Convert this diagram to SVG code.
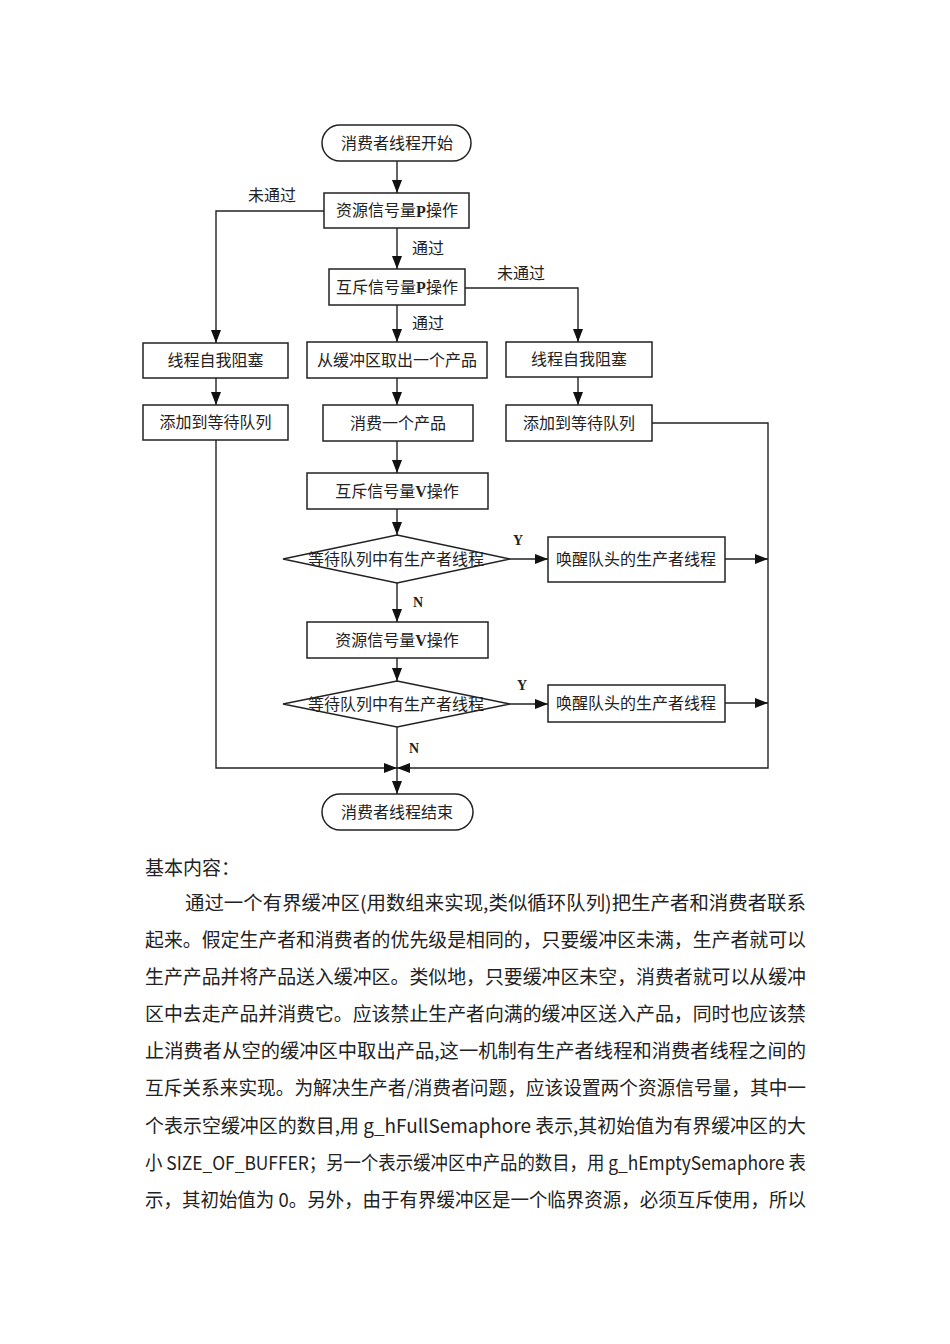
<svg xmlns="http://www.w3.org/2000/svg" width="950" height="1344" viewBox="0 0 950 1344">
<style>
.box{fill:#fff;stroke:#222;stroke-width:1.5}
.lbl{font-family:"Liberation Serif","Noto Sans CJK SC",serif;font-size:16px;fill:#222;text-anchor:middle;dominant-baseline:central}
.lt{font-family:"Liberation Serif","Noto Sans CJK SC",serif;font-weight:bold}
.edge{fill:none;stroke:#222;stroke-width:1.4}
.yn{font-family:"Liberation Serif",serif;font-weight:bold;font-size:14px;fill:#222;text-anchor:middle;dominant-baseline:central}
.para{font-family:"Noto Sans CJK SC",sans-serif;font-size:19px;fill:#222}
</style>
<defs>
<marker id="arr" markerUnits="userSpaceOnUse" markerWidth="13" markerHeight="10" refX="13" refY="5" orient="auto">
<path d="M0,0 L13,5 L0,10 z" fill="#111"/>
</marker>
</defs>
<rect width="950" height="1344" fill="#fff"/>

<g id="connectors">
<path class="edge" d="M397,161 V193" marker-end="url(#arr)"/>
<path class="edge" d="M397,228 V269" marker-end="url(#arr)"/>
<path class="edge" d="M397,305 V342" marker-end="url(#arr)"/>
<path class="edge" d="M397,378 V405" marker-end="url(#arr)"/>
<path class="edge" d="M397,441 V473" marker-end="url(#arr)"/>
<path class="edge" d="M397,509 V535" marker-end="url(#arr)"/>
<path class="edge" d="M397,583 V622" marker-end="url(#arr)"/>
<path class="edge" d="M397,658 V681" marker-end="url(#arr)"/>
<path class="edge" d="M397,727 V794" marker-end="url(#arr)"/>
<path class="edge" d="M324,211 H216 V343" marker-end="url(#arr)"/>
<path class="edge" d="M216,378 V405" marker-end="url(#arr)"/>
<path class="edge" d="M216,440 V768 H397" marker-end="url(#arr)"/>
<path class="edge" d="M465,288 H578 V342" marker-end="url(#arr)"/>
<path class="edge" d="M578,377 V405" marker-end="url(#arr)"/>
<path class="edge" d="M652,423 H768 V768 H397" marker-end="url(#arr)"/>
<path class="edge" d="M510,559 H548" marker-end="url(#arr)"/>
<path class="edge" d="M725,559 H768" marker-end="url(#arr)"/>
<path class="edge" d="M510,704 H548" marker-end="url(#arr)"/>
<path class="edge" d="M725,703 H768" marker-end="url(#arr)"/>
<text class="lbl" x="272" y="195">未通过</text>
<text class="lbl" x="428" y="248">通过</text>
<text class="lbl" x="521" y="273">未通过</text>
<text class="lbl" x="428" y="323">通过</text>
<text class="yn" x="518" y="540">Y</text>
<text class="yn" x="418" y="602">N</text>
<text class="yn" x="522" y="685">Y</text>
<text class="yn" x="414" y="748">N</text>
</g>

<g id="start">
<rect class="box" x="322" y="125" width="149" height="36" rx="18"/>
<text class="lbl" x="397" y="143">消费者线程开始</text>
</g>
<g id="resP">
<rect class="box" x="324" y="193" width="145" height="35"/>
<text class="lbl" x="397" y="210.5">资源信号量<tspan class="lt">P</tspan>操作</text>
</g>
<g id="mutexP">
<rect class="box" x="329" y="269" width="136" height="36"/>
<text class="lbl" x="397" y="287">互斥信号量<tspan class="lt">P</tspan>操作</text>
</g>
<g id="blockL">
<rect class="box" x="143" y="343" width="145" height="35"/>
<text class="lbl" x="215.5" y="360.5">线程自我阻塞</text>
</g>
<g id="take">
<rect class="box" x="307" y="342" width="180" height="36"/>
<text class="lbl" x="397" y="360">从缓冲区取出一个产品</text>
</g>
<g id="blockR">
<rect class="box" x="506" y="342" width="146" height="35"/>
<text class="lbl" x="579" y="359.5">线程自我阻塞</text>
</g>
<g id="waitL">
<rect class="box" x="143" y="405" width="145" height="35"/>
<text class="lbl" x="215.5" y="422.5">添加到等待队列</text>
</g>
<g id="consume">
<rect class="box" x="323" y="405" width="150" height="36"/>
<text class="lbl" x="398" y="423">消费一个产品</text>
</g>
<g id="waitR">
<rect class="box" x="506" y="405" width="146" height="36"/>
<text class="lbl" x="579" y="423">添加到等待队列</text>
</g>
<g id="mutexV">
<rect class="box" x="307" y="473" width="181" height="36"/>
<text class="lbl" x="397" y="491">互斥信号量<tspan class="lt">V</tspan>操作</text>
</g>
<g id="dec1">
<polygon class="box" points="397,535 510,559 397,583 283,559"/>
<text class="lbl" x="396" y="559">等待队列中有生产者线程</text>
</g>
<g id="wake1">
<rect class="box" x="548" y="537" width="177" height="45"/>
<text class="lbl" x="636" y="559">唤醒队头的生产者线程</text>
</g>
<g id="resV">
<rect class="box" x="307" y="622" width="181" height="36"/>
<text class="lbl" x="397" y="640">资源信号量<tspan class="lt">V</tspan>操作</text>
</g>
<g id="dec2">
<polygon class="box" points="397,681 510,704 397,727 283,704"/>
<text class="lbl" x="396" y="704">等待队列中有生产者线程</text>
</g>
<g id="wake2">
<rect class="box" x="548" y="685" width="177" height="37"/>
<text class="lbl" x="636" y="703.5">唤醒队头的生产者线程</text>
</g>
<g id="end">
<rect class="box" x="322" y="794" width="151" height="36" rx="18"/>
<text class="lbl" x="397" y="812">消费者线程结束</text>
</g>

<g id="paragraph">
<text class="para" x="145" y="875">基本内容：</text>
<text class="para" x="185" y="910" textLength="621" lengthAdjust="spacingAndGlyphs">通过一个有界缓冲区(用数组来实现,类似循环队列)把生产者和消费者联系</text>
<text class="para" x="145" y="947" textLength="661" lengthAdjust="spacingAndGlyphs">起来。假定生产者和消费者的优先级是相同的，只要缓冲区未满，生产者就可以</text>
<text class="para" x="145" y="984" textLength="661" lengthAdjust="spacingAndGlyphs">生产产品并将产品送入缓冲区。类似地，只要缓冲区未空，消费者就可以从缓冲</text>
<text class="para" x="145" y="1021" textLength="661" lengthAdjust="spacingAndGlyphs">区中去走产品并消费它。应该禁止生产者向满的缓冲区送入产品，同时也应该禁</text>
<text class="para" x="145" y="1058" textLength="661" lengthAdjust="spacingAndGlyphs">止消费者从空的缓冲区中取出产品,这一机制有生产者线程和消费者线程之间的</text>
<text class="para" x="145" y="1095" textLength="661" lengthAdjust="spacingAndGlyphs">互斥关系来实现。为解决生产者/消费者问题，应该设置两个资源信号量，其中一</text>
<text class="para" x="145" y="1133" textLength="661" lengthAdjust="spacingAndGlyphs">个表示空缓冲区的数目,用 g_hFullSemaphore 表示,其初始值为有界缓冲区的大</text>
<text class="para" x="145" y="1170" textLength="661" lengthAdjust="spacingAndGlyphs">小 SIZE_OF_BUFFER；另一个表示缓冲区中产品的数目，用 g_hEmptySemaphore 表</text>
<text class="para" x="145" y="1207" textLength="661" lengthAdjust="spacingAndGlyphs">示，其初始值为 0。另外，由于有界缓冲区是一个临界资源，必须互斥使用，所以</text>
</g>
</svg>
